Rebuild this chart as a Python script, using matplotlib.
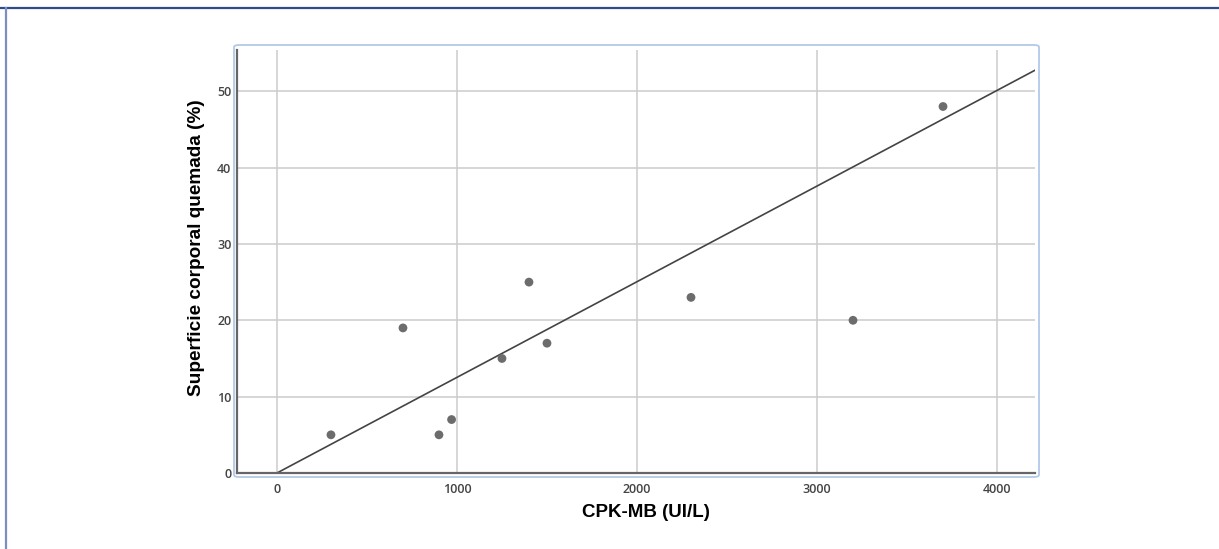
import matplotlib.pyplot as plt
from matplotlib.patches import FancyBboxPatch
from matplotlib.lines import Line2D

# Datos (CPK-MB vs superficie corporal quemada)
cpk_mb = [300, 700, 900, 970, 1250, 1400, 1500, 2300, 3200, 3700]
superficie = [5, 19, 5, 7, 15, 25, 17, 23, 20, 48]

# Recta de ajuste (extremos)
fit_x = [0, 4215]
fit_y = [0, 52.8]

x_ticks = [0, 1000, 2000, 3000, 4000]
y_ticks = [0, 10, 20, 30, 40, 50]

W, H = 1219, 549
fig = plt.figure(figsize=(W / 100, H / 100), dpi=100)

# Marco exterior (solo arriba e izquierda)
fig.add_artist(Line2D([0, 1], [1 - 8 / H, 1 - 8 / H], transform=fig.transFigure,
                      color='#2e4b90', lw=1.6))
fig.add_artist(Line2D([5.5 / W, 5.5 / W], [0, 1 - 8 / H], transform=fig.transFigure,
                      color='#7d8fc2', lw=1.6))

# Caja azul clara alrededor del área del gráfico
box = FancyBboxPatch((234 / W, 1 - 477 / H), (1039 - 234) / W, (477 - 45) / H,
                     boxstyle='round,pad=0,rounding_size=0.004',
                     transform=fig.transFigure, fill=False,
                     edgecolor='#b3c9ea', lw=1.3)
fig.add_artist(box)

ax = fig.add_axes([237 / W, 1 - 473 / H, (1035 - 237) / W, (473 - 50) / H])

ax.grid(True, color='#cccccc', lw=1.1)
ax.set_axisbelow(True)

ax.plot(fit_x, fit_y, color='#444444', lw=1.2, zorder=2)
ax.scatter(cpk_mb, superficie, s=40, color='#6c6c6c', edgecolors='none', zorder=3)

ax.set_xlim(-222, 4211)
ax.set_ylim(0, 55.4)
ax.set_xticks(x_ticks)
ax.set_yticks(y_ticks)

for side in ['top', 'right']:
    ax.spines[side].set_visible(False)
for side in ['left', 'bottom']:
    ax.spines[side].set_color('#666666')
    ax.spines[side].set_linewidth(1.6)

ax.tick_params(length=0, labelsize=9, labelcolor='#444444', pad=4)
for lab in ax.get_xticklabels() + ax.get_yticklabels():
    lab.set_family('Open Sans')
    lab.set_fontweight('semibold')
ax.tick_params(axis='x', pad=7)

ax.set_xlabel('CPK-MB (UI/L)', fontsize=13.5, fontweight='bold',
              family='Liberation Sans')
ax.set_ylabel('Superficie corporal quemada (%)', fontsize=13.7, fontweight='bold',
              family='Liberation Sans')
ax.xaxis.set_label_coords(0.5125, -0.074)
ax.yaxis.set_label_coords(-0.040, 0.532)

fig.savefig('out.png', dpi=100)
